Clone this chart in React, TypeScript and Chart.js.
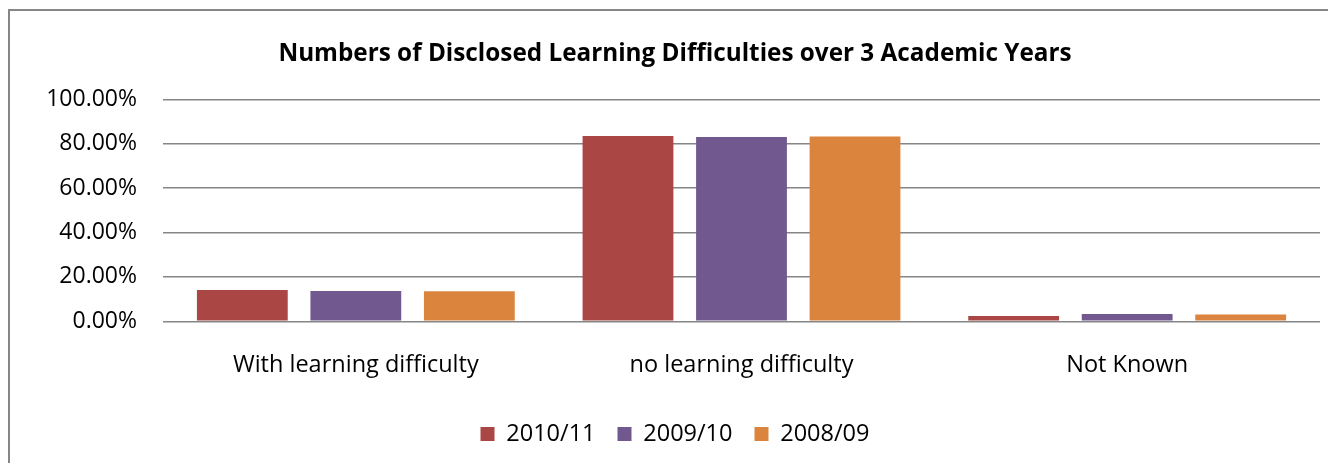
import React, { useEffect, useRef } from "react";
import { Chart, registerables } from "chart.js";

Chart.register(...registerables);

const categories = ["With learning difficulty", "no learning difficulty", "Not Known"];
const seriesNames = ["2010/11", "2009/10", "2008/09"];
const values201011 = [0.141, 0.835, 0.024];
const values200910 = [0.136, 0.83, 0.033];
const values200809 = [0.135, 0.833, 0.03];
const seriesColors = ["#AA4643", "#71588F", "#DB843D"];
const yTickValues = [0, 0.2, 0.4, 0.6, 0.8, 1.0];
const titleText = "Numbers of Disclosed Learning Difficulties over 3 Academic Years";

const FONT = "'Open Sans', 'DejaVu Sans', sans-serif";
const GRID = "#868686";

export default function App() {
  const canvasRef = useRef<HTMLCanvasElement | null>(null);

  useEffect(() => {
    const canvas = canvasRef.current;
    if (!canvas) return;
    const seriesValues = [values201011, values200910, values200809];
    const chart = new Chart(canvas, {
      type: "bar",
      data: {
        labels: categories,
        datasets: seriesNames.map((name, i) => ({
          label: name,
          data: seriesValues[i],
          backgroundColor: seriesColors[i],
          borderWidth: 0,
          categoryPercentage: 0.883,
          barPercentage: 0.8,
        })),
      },
      options: {
        animation: false,
        responsive: false,
        maintainAspectRatio: false,
        color: "#000",
        layout: { padding: { left: 20, right: 24, top: 0, bottom: 35.25 } },
        plugins: {
          title: {
            display: true,
            text: titleText,
            color: "#000",
            font: { family: FONT, size: 24.3, weight: "bold", lineHeight: 1.2 },
            padding: { top: 28.6, bottom: 30.6 },
          },
          legend: {
            position: "bottom",
            labels: {
              color: "#000",
              boxWidth: 14,
              boxHeight: 14,
              padding: 22,
              font: { family: FONT, size: 23.5 },
            },
          },
          tooltip: { enabled: false },
        },
        scales: {
          x: {
            grid: { display: false, drawTicks: false },
            border: { display: false },
            ticks: {
              color: "#000",
              padding: 30,
              font: { family: FONT, size: 23.5, lineHeight: 1.2 },
              maxRotation: 0,
            },
            afterFit: (scale: any) => {
              scale.height = 79;
            },
          },
          y: {
            min: 0,
            max: 1,
            afterBuildTicks: (scale: any) => {
              scale.ticks = yTickValues.map((v) => ({ value: v }));
            },
            grid: { color: GRID, lineWidth: 1.5, drawTicks: false },
            border: { display: false },
            ticks: {
              color: "#000",
              padding: 26,
              font: { family: FONT, size: 23 },
              callback: (v: any) => (Number(v) * 100).toFixed(2) + "%",
            },
            afterFit: (scale: any) => {
              scale.width = 133;
            },
          },
        },
      },
    });
    return () => chart.destroy();
  }, []);

  return (
    <div
      style={{
        position: "absolute",
        left: 0,
        top: 0,
        width: 1328,
        height: 463,
        overflow: "hidden",
        background: "#fff",
      }}
    >
      <div
        style={{
          position: "absolute",
          left: 8,
          top: 9,
          width: 1334,
          height: 480,
          border: `2px solid ${GRID}`,
          background: "#fff",
        }}
      >
        <canvas ref={canvasRef} width={1334} height={480} style={{ display: "block" }} />
      </div>
    </div>
  );
}
